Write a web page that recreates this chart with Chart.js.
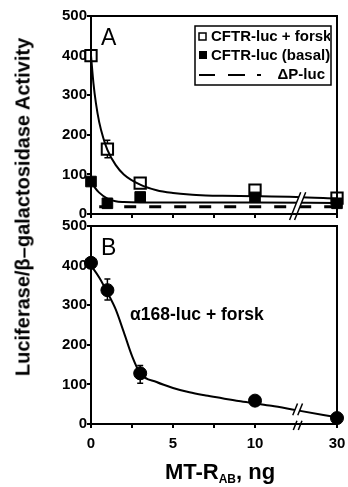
<!DOCTYPE html>
<html>
<head>
<meta charset="utf-8">
<script src="https://cdn.jsdelivr.net/npm/chart.js@4.4.0/dist/chart.umd.min.js"></script>
<style>
  body { margin: 0; background: #fff; }
  #wrap { position: relative; width: 348px; height: 487px; font-family: "Liberation Sans", Arial, sans-serif; font-weight: bold; }
  canvas { position: absolute; left: 0; }
  #cA { top: 0; }
  #cB { top: 216px; }
  .lbl { position: absolute; white-space: nowrap; color: #000; }
  #ylab { left: 23px; top: 207px; font-size: 20px; transform: translate(-50%, -50%) rotate(-90deg); }
  #xlab { left: 220px; top: 472px; font-size: 22px; transform: translate(-50%, -50%); }
  #xlab sub { font-size: 12px; vertical-align: -4px; }
  .panel { font-size: 23px; font-weight: normal; }
  #pA { left: 101px; top: 24px; }
  #pB { left: 101px; top: 234px; }
  #note { left: 130px; top: 304px; font-size: 17.5px; }
</style>
</head>
<body>
<div id="wrap">
  <canvas id="cA" width="348" height="230"></canvas>
  <canvas id="cB" width="348" height="271"></canvas>
  <div class="lbl" id="ylab">Luciferase/β–galactosidase Activity</div>
  <div class="lbl" id="xlab">MT-R<sub>AB</sub>, ng</div>
  <div class="lbl panel" id="pA">A</div>
  <div class="lbl panel" id="pB">B</div>
  <div class="lbl" id="note">α168-luc + forsk</div>
</div>
<script>
// doses (ng) and where they sit on the broken axis (30 is drawn after the break)
const doses = [0, 1, 3, 10, 30];
const doseAxisPos = [0, 1, 3, 10, 15];
const xTickPos = [0, 2.5, 5, 7.5, 10, 15];
const xTickText = { 0: '0', 5: '5', 10: '10', 15: '30' };

// panel A
const forskA = [400, 164, 78, 60, 40];
const forskAErr = [0, 22, 0, 0, 0];
const basalA = [82, 27, 43, 42, 27];
const deltaPLevel = 18;
const forskCurveX = [0, 0.15, 0.3, 0.5, 0.75, 1, 1.5, 2, 3, 4, 5, 6, 7, 8, 10, 12.5, 15];
const forskCurveY = [400, 330, 280, 232, 192, 162, 124, 100, 74, 60, 53, 49, 47, 46, 45, 43, 39];
const basalCurveX = [0, 0.25, 0.5, 1, 1.5, 2, 3, 5, 10, 15];
const basalCurveY = [85, 66, 54, 39, 32, 30, 29, 29, 29, 28];

// panel B
const alphaB = [407, 338, 128, 59, 15];
const alphaBErrHi = [6, 28, 20, 0, 0];
const alphaBErrLo = [6, 25, 25, 0, 0];
const alphaCurveX = [0, 0.5, 1, 1.5, 2, 2.5, 3, 4, 5, 6, 7, 8, 9, 10, 11, 12.5, 15];
const alphaCurveY = [400, 370, 332, 290, 232, 172, 128, 106, 91, 80, 72, 65, 58, 52, 46, 35, 17];

const yTicks = [0, 100, 200, 300, 400, 500];

Chart.defaults.font.family = '"Liberation Sans", Arial, sans-serif';
Chart.defaults.font.weight = 'bold';
Chart.defaults.font.size = 15;
Chart.defaults.color = '#000';

function pts(xs, ys) { return xs.map((x, i) => ({ x: x, y: ys[i] })); }

function drawBreak(ctx, xc, yTop, yBot) {
  const h = yBot - yTop, xt = xc + 0.2 * h, xb = xc - 0.2 * h;
  ctx.save();
  ctx.fillStyle = '#fff';
  ctx.beginPath();
  ctx.moveTo(xt - 2.5, yTop); ctx.lineTo(xt + 2.5, yTop);
  ctx.lineTo(xb + 2.5, yBot); ctx.lineTo(xb - 2.5, yBot);
  ctx.closePath(); ctx.fill();
  ctx.strokeStyle = '#000'; ctx.lineWidth = 1.5;
  [-2.5, 2.5].forEach(o => {
    ctx.beginPath(); ctx.moveTo(xt + o, yTop); ctx.lineTo(xb + o, yBot); ctx.stroke();
  });
  ctx.restore();
}

const errPlugin = {
  id: 'errbars',
  beforeDatasetsDraw(chart, args, opts) {
    const ctx = chart.ctx, xs = chart.scales.x, ys = chart.scales.y;
    ctx.save(); ctx.strokeStyle = '#000'; ctx.lineWidth = 1.5;
    opts.vals.forEach((v, i) => {
      const hi = opts.hi[i], lo = opts.lo[i];
      if (!hi && !lo) return;
      const px = xs.getPixelForValue(doseAxisPos[i]);
      const top = ys.getPixelForValue(v + hi), bot = ys.getPixelForValue(v - lo);
      ctx.beginPath(); ctx.moveTo(px, top); ctx.lineTo(px, bot);
      ctx.moveTo(px - 3, top); ctx.lineTo(px + 3, top);
      ctx.moveTo(px - 3, bot); ctx.lineTo(px + 3, bot); ctx.stroke();
    });
    ctx.restore();
  },
  afterDraw(chart, args, opts) {
    const ctx = chart.ctx, a = chart.chartArea, xs = chart.scales.x, ys = chart.scales.y;
    const bx = xs.getPixelForValue(12.6);
    opts.breaks.forEach(b => drawBreak(ctx, bx, ys.getPixelForValue(b[0]), ys.getPixelForValue(b[1]) + (b[1] <= 0 ? 6 : 0)));
    ctx.save();
    ctx.strokeStyle = '#000'; ctx.lineWidth = 2;
    ctx.strokeRect(a.left, a.top, a.right - a.left, a.bottom - a.top);
    ctx.restore();
    if (opts.legend) {
      const L = opts.legend;
      ctx.save();
      ctx.fillStyle = '#fff'; ctx.fillRect(L.x, L.y, L.w, L.h);
      ctx.strokeStyle = '#000'; ctx.lineWidth = 1.5; ctx.strokeRect(L.x, L.y, L.w, L.h);
      ctx.beginPath(); ctx.rect(L.x, L.y, L.w - 1, L.h); ctx.clip();
      ctx.font = 'bold 15px "Liberation Sans", Arial, sans-serif';
      ctx.fillStyle = '#000'; ctx.textBaseline = 'middle';
      ctx.lineWidth = 1.5;
      ctx.strokeRect(L.x + 4, L.y + 7, 7, 7);
      ctx.fillText('CFTR-luc + forsk', L.x + 16, L.y + 11);
      ctx.fillRect(L.x + 4, L.y + 25, 8, 8);
      ctx.fillText('CFTR-luc (basal)', L.x + 16, L.y + 30);
      ctx.lineWidth = 2;
      ctx.beginPath();
      ctx.moveTo(L.x + 4, L.y + 49); ctx.lineTo(L.x + 20, L.y + 49);
      ctx.moveTo(L.x + 33, L.y + 49); ctx.lineTo(L.x + 50, L.y + 49);
      ctx.moveTo(L.x + 62, L.y + 49); ctx.lineTo(L.x + 66, L.y + 49);
      ctx.stroke();
      ctx.textAlign = 'right';
      ctx.fillText('ΔP-luc', L.x + L.w - 6, L.y + 49);
      ctx.restore();
    }
  }
};

function scales(showX, xH) {
  return {
    x: {
      type: 'linear', min: 0, max: 15,
      afterBuildTicks: s => { s.ticks = xTickPos.map(v => ({ value: v })); },
      afterFit: s => { s.height = xH; s.paddingLeft = 0; s.paddingRight = 0; },
      grid: { drawOnChartArea: false, tickLength: 4, color: '#000', lineWidth: 2 },
      border: { color: '#000', width: 2 },
      ticks: { padding: 7, maxRotation: 0, autoSkip: false, font: { size: 15 },
        callback: v => showX ? (xTickText[v] || '') : '' }
    },
    y: {
      type: 'linear', min: 0, max: 500,
      afterBuildTicks: s => { s.ticks = yTicks.map(v => ({ value: v })); },
      afterFit: s => { s.width = 91; },
      grid: { drawOnChartArea: false, tickLength: 4, color: '#000', lineWidth: 2 },
      border: { color: '#000', width: 2 },
      ticks: { padding: 0, font: { size: 15 } }
    }
  };
}

const lineStyle = { borderColor: '#000', borderWidth: 2, pointRadius: 0, cubicInterpolationMode: 'monotone', fill: false, clip: false };

new Chart(document.getElementById('cA'), {
  type: 'scatter',
  data: {
    datasets: [
      { type: 'line', label: 'forsk fit', data: pts(forskCurveX, forskCurveY), ...lineStyle },
      { type: 'line', label: 'basal fit', data: pts(basalCurveX, basalCurveY), ...lineStyle },
      { type: 'line', label: 'ΔP-luc', data: pts([0.5, 15], [deltaPLevel, deltaPLevel]), borderColor: '#000', borderWidth: 3, borderDash: [12, 13], pointRadius: 0 },
      { label: 'CFTR-luc (basal)', data: pts(doseAxisPos, basalA), pointStyle: 'rect', pointRadius: 7.5, backgroundColor: '#000', borderColor: '#000', borderWidth: 1, clip: false },
      { label: 'CFTR-luc + forsk', data: pts(doseAxisPos, forskA), pointStyle: 'rect', pointRadius: 8, backgroundColor: '#fff', borderColor: '#000', borderWidth: 2, clip: false }
    ]
  },
  options: {
    responsive: false, animation: false,
    layout: { padding: { left: 0, top: 16, right: 11, bottom: 0 } },
    scales: scales(false, 16),
    plugins: {
      legend: { display: false }, tooltip: { enabled: false },
      errbars: { vals: forskA, hi: forskAErr, lo: forskAErr, breaks: [[55, 0]],
        legend: { x: 195, y: 26, w: 136, h: 59 } }
    }
  },
  plugins: [errPlugin]
});

new Chart(document.getElementById('cB'), {
  type: 'scatter',
  data: {
    datasets: [
      { type: 'line', label: 'α168 fit', data: pts(alphaCurveX, alphaCurveY), ...lineStyle },
      { label: 'α168-luc + forsk', data: pts(doseAxisPos, alphaB), pointStyle: 'circle', pointRadius: 6.5, backgroundColor: '#000', borderColor: '#000', borderWidth: 1, clip: false }
    ]
  },
  options: {
    responsive: false, animation: false,
    layout: { padding: { left: 0, top: 10, right: 11, bottom: 0 } },
    scales: scales(true, 63),
    plugins: {
      legend: { display: false }, tooltip: { enabled: false },
      errbars: { vals: alphaB, hi: alphaBErrHi, lo: alphaBErrLo, breaks: [[52, 22], [8, 0]] }
    }
  },
  plugins: [errPlugin]
});
</script>
</body>
</html>
